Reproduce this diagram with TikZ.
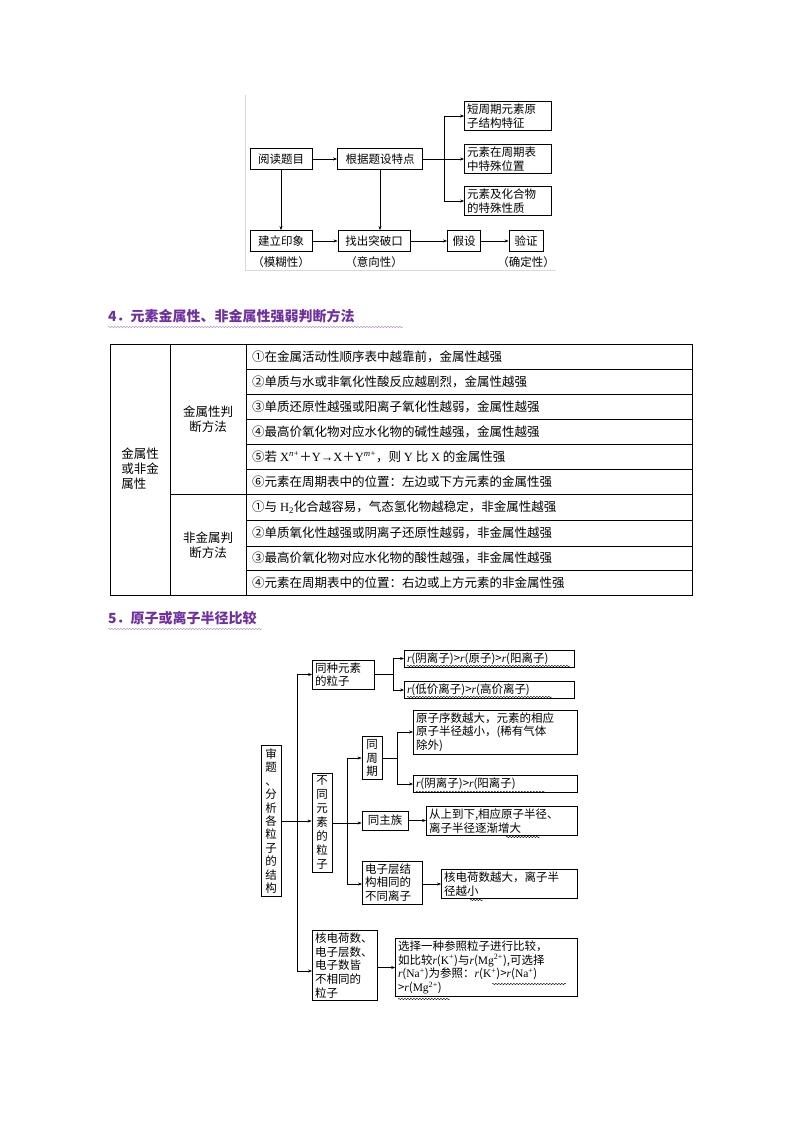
\documentclass[tikz,border=0pt]{standalone}
\usepackage{fontspec}
\setmainfont{Noto Sans CJK SC}
\newfontfamily\lat{Liberation Serif}
\usetikzlibrary{arrows.meta,decorations.pathmorphing}
\newcommand\rr{{\lat\itshape r}}
\definecolor{hd}{RGB}{112,48,160}
\begin{document}
\begin{tikzpicture}[x=1pt,y=-1pt,
  bx/.style={draw,line width=0.8pt,inner sep=2.5pt,align=left,font=\fontsize{11.5}{13.6}\selectfont},
  ar/.style={-{Stealth[length=4pt,width=3pt]},line width=0.6pt},
  ln/.style={line width=0.6pt},
  wv/.style={decorate,decoration={snake,amplitude=0.7pt,segment length=3pt},line width=0.4pt},
  tx/.style={anchor=west,inner sep=0pt,font=\fontsize{12.5}{14}\selectfont},
  hdr/.style={anchor=west,inner sep=0pt,text=hd,font=\fontsize{14}{16}\selectfont\bfseries}]
\fill[white] (0,0) rectangle (800,1132);
\useasboundingbox (0,0) rectangle (800,1132);
% ---------- top flowchart ----------
\draw[black!15] (245,95) -- (245,270) -- (556,270);
\node[bx,minimum width=62,minimum height=21] (yd) at (281,159) {阅读题目};
\node[bx,minimum width=85,minimum height=21] (gj) at (380,159) {根据题设特点};
\node[bx,text width=82] (s1) at (508,116) {短周期元素原\\子结构特征};
\node[bx,text width=82] (s2) at (508,159) {元素在周期表\\中特殊位置};
\node[bx,text width=82] (s3) at (508,201) {元素及化合物\\的特殊性质};
\node[bx,minimum width=62,minimum height=21] (jl) at (281,241) {建立印象};
\node[bx,minimum width=72,minimum height=21] (zc) at (374,241) {找出突破口};
\node[bx,minimum width=33,minimum height=21] (js) at (464,241) {假设};
\node[bx,minimum width=34,minimum height=21] (yz) at (526,241) {验证};
\node[font=\fontsize{11.5}{13}\selectfont] (l1) at (281,262) {（模糊性）};
\node[font=\fontsize{11.5}{13}\selectfont] (l2) at (374,262) {（意向性）};
\node[font=\fontsize{11.5}{13}\selectfont] (l3) at (526,262) {（确定性）};
\coordinate (b1) at (444,159);
\draw[ar] (yd) -- (gj);
\draw[ln] (gj.east) -- (b1);
\draw[ar] (b1) |- (s1.west);
\draw[ar] (b1) -- (s2.west);
\draw[ar] (b1) |- (s3.west);
\draw[ar] (yd) -- (jl);
\draw[ar] (gj.south) -- (gj.south |- zc.north);
\draw[ar] (jl) -- (zc);
\draw[ar] (zc) -- (js);
\draw[ar] (js) -- (yz);
% ---------- heading 4 ----------
\node[hdr] (h4) at (108,316) {4．元素金属性、非金属性强弱判断方法};
\draw[wv,hd!60] (108,327) -- (403,327);
% ---------- table ----------
\draw[line width=0.8pt] (110,344) rectangle (692,595);
\draw[line width=0.8pt] (170,344) -- (170,595) (246,344) -- (246,595) (170,494) -- (246,494);
\foreach \y in {369,394,419,444,469,494,520,546,570} \draw[line width=0.8pt] (246,\y) -- (692,\y);
\node[font=\fontsize{12.5}{15}\selectfont,align=left] (c1) at (140,469) {金属性\\或非金\\属性};
\node[font=\fontsize{12.5}{15}\selectfont,align=center] (c2) at (208,419) {金属性判\\断方法};
\node[font=\fontsize{12.5}{15}\selectfont,align=center] (c3) at (208,545) {非金属判\\断方法};
\node[tx] (r1) at (252,356.5) {①在金属活动性顺序表中越靠前，金属性越强};
\node[tx] (r2) at (252,381.5) {②单质与水或非氧化性酸反应越剧烈，金属性越强};
\node[tx] (r3) at (252,406.5) {③单质还原性越强或阳离子氧化性越弱，金属性越强};
\node[tx] (r4) at (252,431.5) {④最高价氧化物对应水化物的碱性越强，金属性越强};
\node[tx] (r5) at (252,456.5) {⑤若 {\lat X\textsuperscript{\itshape n}\textsuperscript{+}}＋{\lat Y→X}＋{\lat Y\textsuperscript{\itshape m}\textsuperscript{+}}，则 {\lat Y} 比 {\lat X} 的金属性强};
\node[tx] (r6) at (252,481.5) {⑥元素在周期表中的位置：左边或下方元素的金属性强};
\node[tx] (r7) at (252,507) {①与 {\lat H\textsubscript{2}}化合越容易，气态氢化物越稳定，非金属性越强};
\node[tx] (r8) at (252,533) {②单质氧化性越强或阴离子还原性越弱，非金属性越强};
\node[tx] (r9) at (252,558) {③最高价氧化物对应水化物的酸性越强，非金属性越强};
\node[tx] (r10) at (252,582.5) {④元素在周期表中的位置：右边或上方元素的非金属性强};
% ---------- heading 5 ----------
\node[hdr] (h5) at (108,618) {5．原子或离子半径比较};
\draw[wv,hd!60] (108,629) -- (262,629);
% ---------- bottom diagram ----------
\node[bx,text width=14,inner sep=3pt,align=center,font=\fontsize{11.5}{13.4}\selectfont] (sd) at (271,821) {审\\题\\、\\分\\析\\各\\粒\\子\\的\\结\\构};
\node[bx,text width=57] (tz) at (343.5,674.5) {同种元素\\的粒子};
\node[bx,text width=165] (t1) at (489.5,658.5) {\rr(阴离子)>\rr(原子)>\rr(阳离子)};
\node[bx,text width=165] (t2) at (489.5,690) {\rr(低价离子)>\rr(高价离子)};
\node[bx,text width=14,inner sep=3pt,align=center,font=\fontsize{11.5}{14}\selectfont] (bt) at (322,823) {不\\同\\元\\素\\的\\粒\\子};
\node[bx,text width=14,inner sep=3pt,align=center] (tq) at (372,758) {同\\周\\期};
\node[bx,text width=159] (q1) at (495.5,732) {原子序数越大，元素的相应\\原子半径越小，(稀有气体\\除外)};
\node[bx,text width=159] (q2) at (495.5,784) {\rr(阴离子)>\rr(阳离子)};
\node[bx,minimum width=46,minimum height=19] (zz) at (385,820.5) {同主族};
\node[bx,text width=146] (z1) at (502,821) {从上到下,相应原子半径、\\离子半径逐渐增大};
\node[bx,text width=55] (dz) at (392.5,882.5) {电子层结\\构相同的\\不同离子};
\node[bx,text width=131] (d1) at (509.5,884) {核电荷数越大，离子半\\径越小};
\node[bx,text width=60] (hd) at (345,965.5) {核电荷数、\\电子层数、\\电子数皆\\不相同的\\粒子};
\node[bx,text width=177] (h1) at (486.5,967.5) {选择一种参照粒子进行比较，\\如比较\rr({\lat K\textsuperscript{+}})与\rr({\lat Mg\textsuperscript{2+}}),可选择\\\rr({\lat Na\textsuperscript{+}})为参照：\rr({\lat K\textsuperscript{+}})>\rr({\lat Na\textsuperscript{+}})\\>\rr({\lat Mg\textsuperscript{2+}})};
% connectors
\coordinate (tr) at (297,821);
\coordinate (tr1) at (297,674.5);
\coordinate (tr2) at (297,971);
\coordinate (br1) at (393,674.5);
\coordinate (ib) at (347,823);
\coordinate (ib1) at (347,758);
\coordinate (ib2) at (347,884);
\coordinate (br2) at (397,758);
\draw[ln] (sd.east) -- (tr);
\draw[ln] (tr1) -- (tr2);
\draw[ar] (tr1) -- (tz.west);
\draw[ar] (tr) -- (bt.west |- tr);
\draw[ar] (tr2) -- (hd.west |- tr2);
\draw[ln] (tz.east) -- (br1);
\draw[ar] (br1) |- (t1.west);
\draw[ar] (br1) |- (t2.west);
\draw[ln] (bt.east |- ib) -- (ib);
\draw[ln] (ib1) -- (ib2);
\draw[ar] (ib1) -- (tq.west);
\draw[ar] (ib) -- (zz.west |- ib);
\draw[ar] (ib2) -- (dz.west |- ib2);
\draw[ln] (tq.east) -- (br2);
\draw[ar] (br2) |- (q1.west);
\draw[ar] (br2) |- (q2.west);
\draw[ar] (zz.east) -- (z1.west |- zz.east);
\draw[ar] (dz.east |- d1.west) -- (d1.west);
\draw[ar] (hd.east |- h1.west) -- (h1.west);
% wavy underlines
\draw[wv] (407,666) -- (570,666);
\draw[wv] (407,697) -- (552,697);
\draw[wv] (416,792) -- (545,792);
\draw[wv] (506,837) -- (540,837);
\draw[wv] (470,900) -- (483,900);
\draw[wv] (492,984) -- (566,984);
\draw[wv] (398,999) -- (450,999);
\end{tikzpicture}
\end{document}
